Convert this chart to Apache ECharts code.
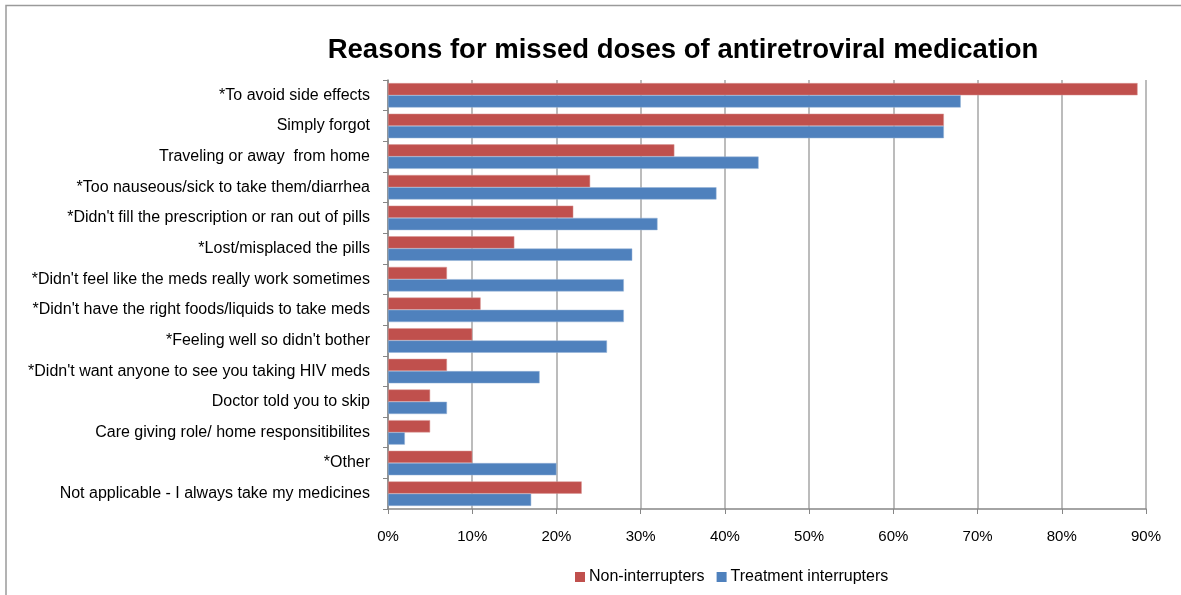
<!DOCTYPE html>
<html>
<head>
<meta charset="utf-8">
<script src="https://cdn.jsdelivr.net/npm/echarts@6/dist/echarts.min.js"></script>
<style>
  html, body { margin: 0; padding: 0; background: #fff; }
  #chart { width: 1181px; height: 595px; }
</style>
</head>
<body>
<div id="chart"></div>
<script>
// categories, top to bottom as in the picture
var reasons = [
    '*To avoid side effects',
    'Simply forgot',
    'Traveling or away  from home',
    '*Too nauseous/sick to take them/diarrhea',
    "*Didn't fill the prescription or ran out of pills",
    '*Lost/misplaced the pills',
    "*Didn't feel like the meds really work sometimes",
    "*Didn't have the right foods/liquids to take meds",
    "*Feeling well so didn't bother",
    "*Didn't want anyone to see you taking HIV meds",
    'Doctor told you to skip',
    'Care giving role/ home responsitibilites',
    '*Other',
    'Not applicable - I always take my medicines'
];
// percent values
var nonInterrupters = [89, 66, 34, 24, 22, 15, 7, 11, 10, 7, 5, 5, 10, 23];
var treatmentInterrupters = [68, 66, 44, 39, 32, 29, 28, 28, 26, 18, 7, 2, 20, 17];
var xTicks = [0, 10, 20, 30, 40, 50, 60, 70, 80, 90];

var font = '"Liberation Sans", sans-serif';

let myChart = echarts.init(document.getElementById('chart'));

let option = {
    animation: false,
    title: {
        text: 'Reasons for missed doses of antiretroviral medication',
        left: 678,
        top: 31,
        textAlign: 'center',
        textStyle: {
            fontFamily: font,
            fontSize: 27.5,
            fontWeight: 'bold',
            color: '#000'
        }
    },
    legend: {
        data: ['Non-interrupters', 'Treatment interrupters'],
        left: 570,
        top: 564,
        itemWidth: 10,
        itemHeight: 10,
        itemGap: 12,
        icon: 'rect',
        itemStyle: { borderWidth: 0 },
        textStyle: {
            fontFamily: font,
            fontSize: 16,
            color: '#000',
            padding: [0, 0, 0, -1]
        }
    },
    grid: {
        left: 388,
        right: 35,
        top: 80,
        bottom: 86
    },
    xAxis: {
        type: 'value',
        min: xTicks[0],
        max: xTicks[xTicks.length - 1],
        interval: 10,
        axisLine: { show: true, lineStyle: { color: '#868686', width: 1.5 } },
        axisTick: { show: true, length: 5, lineStyle: { color: '#868686' } },
        axisLabel: {
            formatter: '{value}%',
            fontFamily: font,
            fontSize: 15,
            color: '#000',
            margin: 20
        },
        splitLine: { show: true, lineStyle: { color: '#a6a6a6', width: 1.5 } }
    },
    yAxis: {
        type: 'category',
        inverse: true,
        data: reasons,
        axisLine: { show: true, lineStyle: { color: '#868686', width: 1.5 } },
        axisTick: { show: true, length: 5, lineStyle: { color: '#868686' } },
        axisLabel: {
            fontFamily: font,
            fontSize: 16,
            color: '#000',
            margin: 18,
            padding: [4, 0, 0, 0]
        }
    },
    series: [
        {
            name: 'Non-interrupters',
            type: 'bar',
            data: nonInterrupters,
            barGap: '0%',
            barCategoryGap: '20%',
            itemStyle: { color: '#c0504d', borderColor: '#d99694', borderWidth: 0.5 }
        },
        {
            name: 'Treatment interrupters',
            type: 'bar',
            data: treatmentInterrupters,
            barGap: '0%',
            barCategoryGap: '20%',
            itemStyle: { color: '#4f81bd', borderColor: '#95b3d7', borderWidth: 0.5 }
        }
    ],
    graphic: [
        {
            type: 'polyline',
            shape: { points: [[6, 595], [6, 5.5], [1181, 5.5]] },
            style: { stroke: '#9a9a9a', lineWidth: 1.5, fill: null },
            silent: true
        }
    ]
};

myChart.setOption(option);
</script>
</body>
</html>
